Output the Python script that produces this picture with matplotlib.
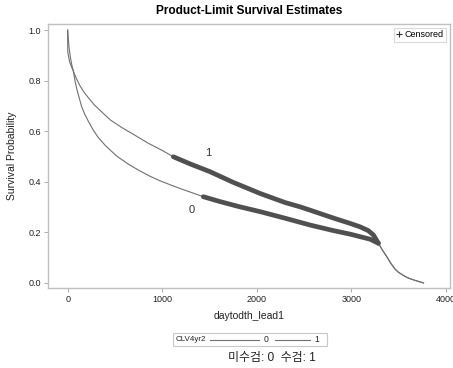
import matplotlib
matplotlib.use("Agg")
import matplotlib.pyplot as plt
from matplotlib.lines import Line2D
from matplotlib.patches import Rectangle
import numpy as np

plt.rcParams['font.family'] = ['Liberation Sans', 'Noto Sans CJK KR', 'DejaVu Sans']

# KM estimates (days, survival)
t1 = [0, 1, 20, 40, 60, 90, 130, 170, 218, 280, 350, 450, 571, 694, 850, 1000, 1118,
      1300, 1506, 1750, 2035, 2300, 2458, 2564, 2800, 3000, 3093, 3180, 3234, 3287,
      3330, 3376, 3420, 3463, 3500, 3550, 3600, 3660, 3720, 3765]
s1 = [1.0, 0.914, 0.875, 0.855, 0.838, 0.81, 0.78, 0.756, 0.733, 0.705, 0.68, 0.645,
      0.615, 0.588, 0.553, 0.524, 0.499, 0.47, 0.44, 0.398, 0.354, 0.318, 0.301, 0.288,
      0.258, 0.234, 0.222, 0.207, 0.19, 0.157, 0.13, 0.104, 0.077, 0.055, 0.042, 0.03,
      0.02, 0.012, 0.005, 0.0]

t0 = [0, 5, 15, 30, 45, 60, 80, 100, 125, 148, 180, 218, 270, 324, 400, 518, 641, 750,
      871, 977, 1100, 1200, 1300, 1435, 1600, 1800, 2035, 2300, 2564, 2800, 3000, 3093,
      3200, 3287, 3330, 3376, 3420, 3463, 3500, 3550, 3600, 3660, 3720, 3765]
s0 = [1.0, 0.975, 0.93, 0.89, 0.86, 0.838, 0.795, 0.762, 0.728, 0.697, 0.668, 0.64,
      0.605, 0.575, 0.543, 0.502, 0.47, 0.446, 0.422, 0.404, 0.386, 0.372, 0.359, 0.341,
      0.323, 0.303, 0.282, 0.256, 0.229, 0.208, 0.192, 0.183, 0.173, 0.157, 0.13, 0.104,
      0.077, 0.055, 0.042, 0.03, 0.02, 0.012, 0.005, 0.0]

# range of days where the censoring marks pile up into a thick band
cens1 = (1118, 3287)
cens0 = (1435, 3287)

group_labels = ['0', '1']

fig = plt.figure(figsize=(4.53, 3.68), dpi=100)
ax = fig.add_axes([48 / 453, 80 / 368, 402 / 453, 264 / 368])

thin = '#707070'
thick = '#505050'

for t, s, (a, b) in [(t0, s0, cens0), (t1, s1, cens1)]:
    t = np.array(t)
    s = np.array(s)
    ax.plot(t, s, color=thin, lw=0.8)
    m = (t >= a) & (t <= b)
    ax.plot(t[m], s[m], color=thick, lw=3.4, solid_capstyle='round', solid_joinstyle='round')

ax.text(1485, 0.514, '1', fontsize=8, ha='center', va='center', color='#333333')
ax.text(1312, 0.289, '0', fontsize=8, ha='center', va='center', color='#333333')

ax.set_xlim(-208, 4045)
ax.set_ylim(-0.02, 1.024)
ax.set_xticks([0, 1000, 2000, 3000, 4000])
ax.set_yticks([0.0, 0.2, 0.4, 0.6, 0.8, 1.0])
ax.set_yticklabels(['0.0', '0.2', '0.4', '0.6', '0.8', '1.0'])
ax.tick_params(labelsize=6.5, length=3, width=0.6, color='#a0a0a0', pad=2, labelcolor='#222222')
for sp in ax.spines.values():
    sp.set_color('#c0c0c0')
    sp.set_linewidth(1.0)

ax.set_xlabel('daytodth_lead1', fontsize=7.5, labelpad=5, color='#222222')
ax.set_ylabel('Survival Probability', fontsize=7.5, labelpad=8, color='#222222')
ax.set_title('Product-Limit Survival Estimates', fontsize=8.6, fontweight='bold', pad=7)

cens_handle = Line2D([], [], marker='+', ls='none', color='#333333', markersize=5, markeredgewidth=0.8)
leg = ax.legend([cens_handle], ['Censored'], loc='upper right', fontsize=6.5, frameon=True,
                fancybox=False, handlelength=0.6, handletextpad=0.3, borderpad=0.3,
                borderaxespad=0.4)
leg.get_frame().set_edgecolor('#d0d0d0')
leg.get_frame().set_linewidth(0.8)

# group legend below the axes
def fx(px):
    return px / 453

def fy(py):
    return 1 - py / 368

fig.patches.append(Rectangle((fx(173), fy(346)), fx(327) - fx(173), fy(333) - fy(346),
                             transform=fig.transFigure, fill=False, edgecolor='#c8c8c8', lw=0.8))
fig.text(fx(176), fy(339.5), 'CLV4yr2', fontsize=5.8, va='center', ha='left', color='#222222')
seg = [(210, 259, 266), (275, 310, 317)]
for (x0, x1, xt), lab in zip(seg, group_labels):
    fig.add_artist(Line2D([fx(x0), fx(x1)], [fy(339.5), fy(339.5)], transform=fig.transFigure,
                          color=thin, lw=0.8))
    fig.text(fx(xt), fy(339.5), lab, fontsize=6.2, va='center', ha='center', color='#222222')

fig.text(fx(272), fy(358), '미수검: 0  수검: 1', fontsize=8.6, ha='center', va='center', color='#222222')

fig.savefig('out.png', dpi=100)
